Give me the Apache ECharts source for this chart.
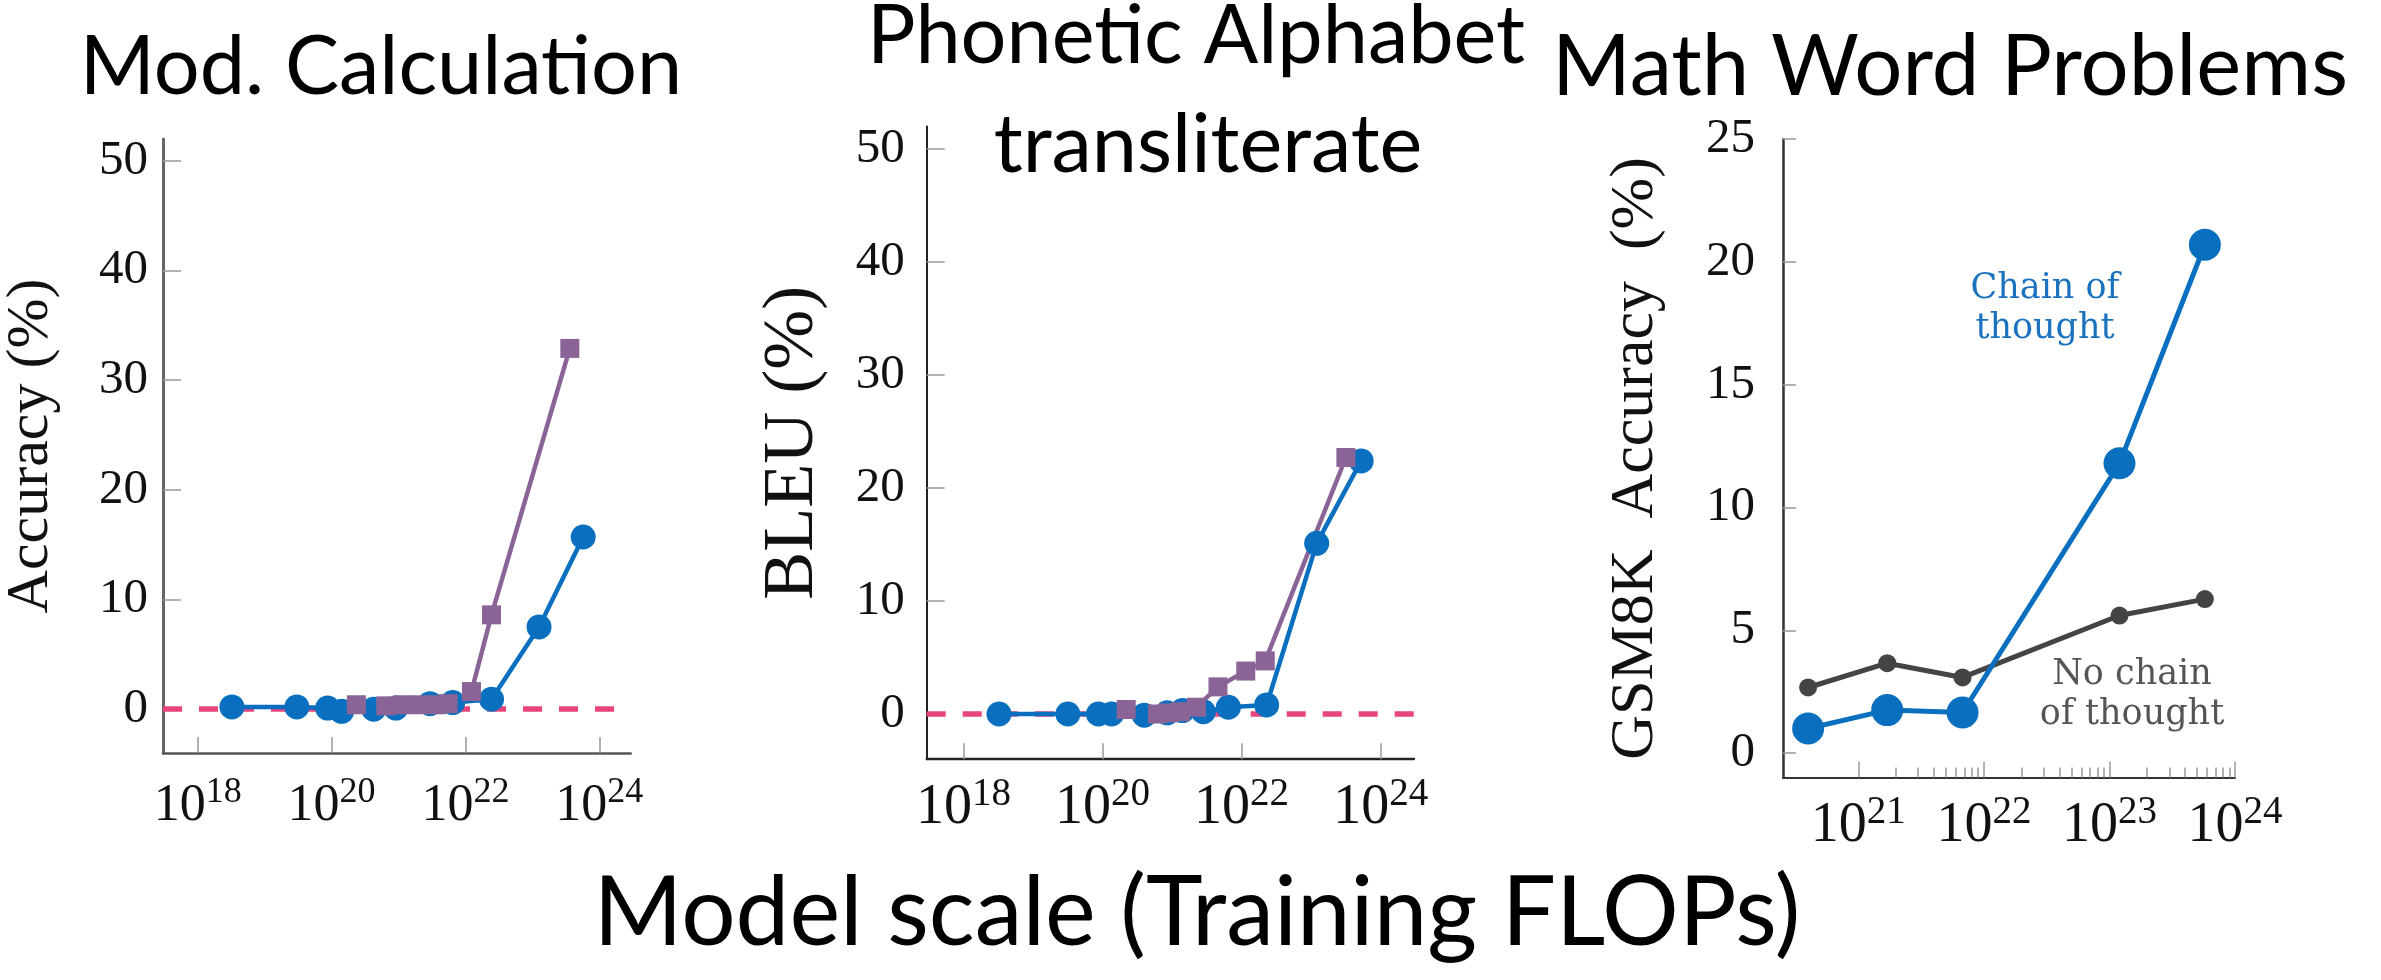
<!DOCTYPE html>
<html><head><meta charset="utf-8">
<script src="https://cdn.jsdelivr.net/npm/echarts@6/dist/echarts.min.js"></script>
<style>html,body{margin:0;padding:0;background:#fff}#c{width:2381px;height:980px}</style>
</head><body><div id="c"></div>
<script>
// x values are log10(training FLOPs)
// Panel 1: Mod. Calculation
const modBlueX   = [18.51, 19.48, 19.94, 20.15, 20.63, 20.96, 21.47, 21.81, 22.39, 23.10, 23.76];
const modBlueY   = [0.2, 0.2, 0.1, -0.2, 0.0, 0.1, 0.5, 0.6, 0.9, 7.5, 15.7];
const modPurpleX = [20.37, 20.81, 21.07, 21.34, 21.57, 21.74, 22.09, 22.39, 23.56];
const modPurpleY = [0.4, 0.3, 0.4, 0.4, 0.4, 0.5, 1.6, 8.6, 32.9];
// Panel 2: Phonetic Alphabet transliterate
const ipaBlueX   = [18.51, 19.50, 19.94, 20.13, 20.60, 20.93, 21.15, 21.45, 21.81, 22.36, 23.08, 23.72];
const ipaBlueY   = [0.0, 0.0, 0.0, 0.0, -0.1, 0.1, 0.3, 0.2, 0.6, 0.8, 15.1, 22.4];
const ipaPurpleX = [20.34, 20.79, 20.95, 21.12, 21.35, 21.66, 22.06, 22.34, 23.50];
const ipaPurpleY = [0.4, 0.0, 0.1, 0.2, 0.6, 2.4, 3.8, 4.7, 22.7];
// Panel 3: Math Word Problems (GSM8K)
const gsmX     = [20.60, 21.23, 21.83, 23.08, 23.76];
const gsmCoT   = [1.0, 1.75, 1.65, 11.8, 20.7];
const gsmNoCoT = [2.67, 3.66, 3.08, 5.6, 6.27];

const xTicks12 = [18, 20, 22, 24];
const xTicks3  = [21, 22, 23, 24];
const yTicks12 = [0, 10, 20, 30, 40, 50];
const yTicks3  = [0, 5, 10, 15, 20, 25];
const minorDecades = [21, 22, 23];
const minorMultipliers = [2, 3, 4, 5, 6, 7, 8, 9];

const BLUE = '#0A6FBF', PURPLE = '#8A6496', GRAY = '#444444', PINK = '#E8457C';
const serif = 'Liberation Serif';
const minorTicks = [];
minorDecades.forEach(n => minorMultipliers.forEach(k => minorTicks.push(n + Math.log10(k))));
const zip = (xs, ys) => xs.map((x, i) => [x, ys[i]]);

function xAxisCfg(gi, min, max, ticks, base, sup, H, margin, axColor, axWidth) {
  return {
    type: 'value', gridIndex: gi, min, max,
    axisLine: { onZero: false, lineStyle: { color: axColor, width: axWidth } },
    axisTick: { inside: true, length: 16, customValues: ticks, lineStyle: { color: '#999', width: 1.5 } },
    splitLine: { show: false },
    axisLabel: {
      customValues: ticks, margin,
      formatter: v => '{b|10}{s|' + Math.round(v) + '}',
      rich: {
        b: { fontFamily: serif, fontSize: base, height: base, lineHeight: H, verticalAlign: 'bottom', color: '#111' },
        s: { fontFamily: serif, fontSize: sup, height: sup, lineHeight: H, verticalAlign: 'top', color: '#111' }
      }
    }
  };
}
function yAxisCfg(gi, min, max, ticks, name, nameSize, nameGap, margin, axColor, axWidth, tickLen) {
  return {
    type: 'value', gridIndex: gi, min, max,
    name, nameLocation: 'middle', nameGap,
    nameTextStyle: { fontFamily: serif, fontSize: nameSize, color: '#111' },
    axisLine: { show: true, lineStyle: { color: axColor, width: axWidth } },
    axisTick: { show: true, inside: true, length: tickLen, customValues: ticks, lineStyle: { color: '#999', width: 1.5 } },
    splitLine: { show: false },
    axisLabel: { customValues: ticks, margin, fontFamily: serif, fontSize: 49, color: '#111' }
  };
}
const zeroLine = { silent: true, z: 1, symbol: 'none', label: { show: false },
  lineStyle: { type: [19, 17], width: 5.5, color: PINK, opacity: 1 }, data: [{ yAxis: 0 }] };

function lineSeries(xi, data, color, symbol, size, width, withZero) {
  const s = { type: 'line', xAxisIndex: xi, yAxisIndex: xi, data, symbol, symbolSize: size,
    showAllSymbol: true, animation: false,
    itemStyle: { color, borderWidth: 0 }, lineStyle: { color, width } };
  if (withZero) s.markLine = zeroLine;
  return s;
}
const txt = (text, x, y, size, family, fill, lh) => ({ type: 'text', x, y, silent: true,
  style: { text, fontFamily: family, fontSize: size, fill, align: 'center', verticalAlign: 'middle',
           textAlign: 'center', textVerticalAlign: 'middle', lineHeight: lh } });

const option = {
  backgroundColor: '#fff',
  animation: false,
  grid: [
    { left: 160.7, top: 139, width: 470, height: 614 },
    { left: 926.7, top: 126.4, width: 487.3, height: 632.8 },
    { left: 1783, top: 139.2, width: 452, height: 638.4 },
    { left: 1783, top: 139.2, width: 452, height: 638.4 }
  ],
  xAxis: [
    xAxisCfg(0, 17.48, 24.47, xTicks12, 52, 36, 57, 22, '#555', 2.5),
    xAxisCfg(1, 17.47, 24.48, xTicks12, 56, 39, 61, 16, '#222', 2.3),
    xAxisCfg(2, 20.40, 24.00, xTicks3, 56, 39, 61, 16, '#333', 2),
    { type: 'value', gridIndex: 3, min: 20.40, max: 24.00, axisLine: { show: false, onZero: false },
      axisLabel: { show: false }, splitLine: { show: false },
      axisTick: { inside: true, length: 10, customValues: minorTicks, lineStyle: { color: '#999', width: 1.5 } } }
  ],
  yAxis: [
    yAxisCfg(0, -4, 52, yTicks12, 'Accuracy (%)', 60, 102, 15, '#666', 3, 18),
    yAxisCfg(1, -4, 52, yTicks12, 'BLEU (%)', 72, 98, 22, '#222', 2, 18),
    yAxisCfg(2, -1, 25, yTicks3, 'GSM8K  Accuracy  (%)', 62, 116, 28, '#333', 2.5, 13),
    { type: 'value', gridIndex: 3, min: -1, max: 25, show: false }
  ],
  series: [
    lineSeries(0, zip(modBlueX, modBlueY), BLUE, 'circle', 25, 4.5, true),
    lineSeries(0, zip(modPurpleX, modPurpleY), PURPLE, 'rect', 19, 4.5, false),
    lineSeries(1, zip(ipaBlueX, ipaBlueY), BLUE, 'circle', 25, 4.5, true),
    lineSeries(1, zip(ipaPurpleX, ipaPurpleY), PURPLE, 'rect', 19, 4.5, false),
    lineSeries(2, zip(gsmX, gsmNoCoT), GRAY, 'circle', 18, 5, false),
    lineSeries(2, zip(gsmX, gsmCoT), BLUE, 'circle', 32, 5, false)
  ],
  graphic: { elements: [
    txt('Mod. Calculation', 381, 68, 81, 'Lato', '#000'),
    txt('Phonetic Alphabet', 1196, 37, 81, 'Lato', '#000'),
    txt('transliterate', 1208, 146, 81, 'Lato', '#000'),
    txt('Math Word Problems', 1950, 68, 85, 'Lato', '#000'),
    txt('Model scale (Training FLOPs)', 1197, 914, 96, 'Lato', '#000'),
    txt('Chain of\nthought', 2045, 309, 35, 'DejaVu Serif', '#1A72BE', 40),
    txt('No chain\nof thought', 2132, 695, 35, 'DejaVu Serif', '#555555', 40)
  ] }
};
const chart = echarts.init(document.getElementById('c'), null, { renderer: 'canvas' });
chart.setOption(option);
</script>
</body></html>
